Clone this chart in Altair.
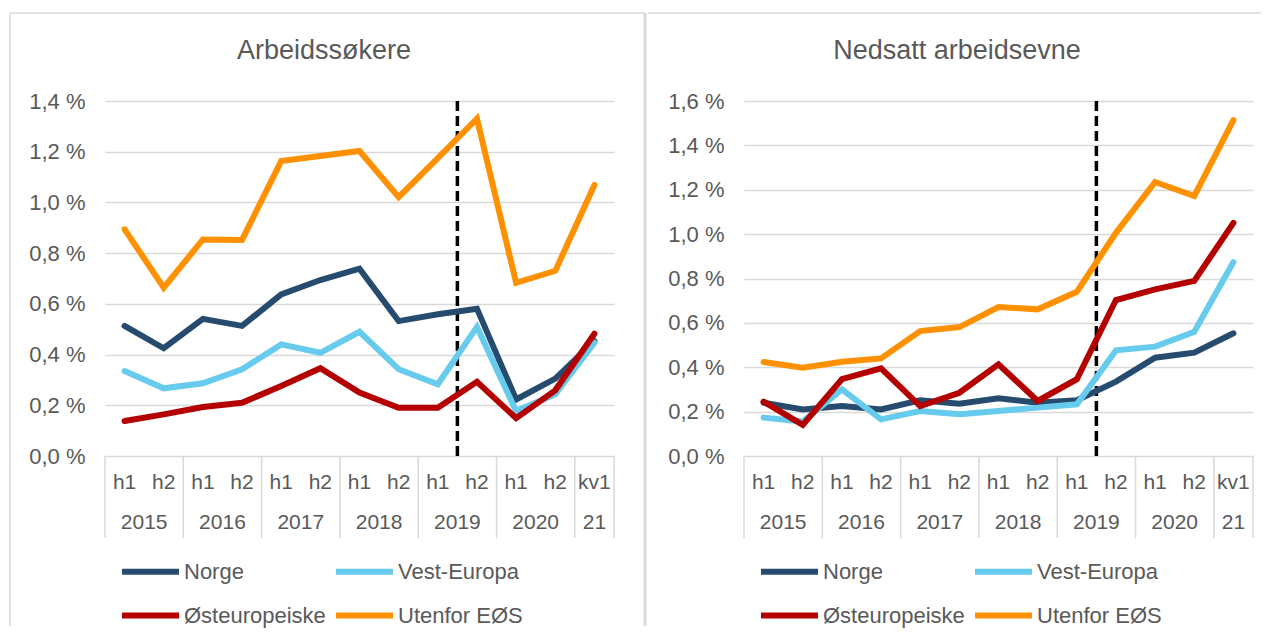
import altair as alt
import pandas as pd

# ---- data ----
perioder = ["h1", "h2", "h1", "h2", "h1", "h2", "h1", "h2", "h1", "h2", "h1", "h2", "kv1"]
aar = ["2015", "2016", "2017", "2018", "2019", "2020", "21"]
aar_lengde = [2, 2, 2, 2, 2, 2, 1]
skille_aar = "2019"  # dashed line between h1 and h2 of this year

serier = ["Norge", "Vest-Europa", "Østeuropeiske", "Utenfor EØS"]
farger = ["#264B6E", "#66CBEC", "#B50000", "#FF9100"]

tittel_1 = "Arbeidssøkere"
arb_norge = [0.513, 0.425, 0.541, 0.513, 0.637, 0.694, 0.739, 0.532, 0.559, 0.581, 0.223, 0.305, 0.453]
arb_vest = [0.335, 0.267, 0.287, 0.342, 0.440, 0.407, 0.490, 0.342, 0.283, 0.509, 0.177, 0.243, 0.447]
arb_ost = [0.138, 0.164, 0.193, 0.210, 0.276, 0.346, 0.250, 0.190, 0.190, 0.293, 0.149, 0.259, 0.482]
arb_utenfor = [0.894, 0.664, 0.854, 0.852, 1.163, 1.183, 1.203, 1.021, 1.175, 1.330, 0.683, 0.730, 1.069]
y_ticks_1 = [0.0, 0.2, 0.4, 0.6, 0.8, 1.0, 1.2, 1.4]

tittel_2 = "Nedsatt arbeidsevne"
ned_norge = [0.240, 0.210, 0.225, 0.210, 0.251, 0.236, 0.260, 0.240, 0.251, 0.335, 0.443, 0.466, 0.553]
ned_vest = [0.173, 0.155, 0.300, 0.165, 0.203, 0.188, 0.203, 0.218, 0.233, 0.476, 0.493, 0.560, 0.874]
ned_ost = [0.245, 0.140, 0.346, 0.395, 0.225, 0.285, 0.413, 0.248, 0.346, 0.703, 0.751, 0.789, 1.051]
ned_utenfor = [0.424, 0.398, 0.425, 0.440, 0.563, 0.581, 0.671, 0.661, 0.740, 1.006, 1.235, 1.172, 1.514]
y_ticks_2 = [0.0, 0.2, 0.4, 0.6, 0.8, 1.0, 1.2, 1.4, 1.6]

# ---- layout / style ----
W, H = 509, 355
FONT = "Liberation Sans"
GREY_TXT = "#595959"
GRID = "#D9D9D9"

n = len(perioder)
starts = []
s = 0
for L in aar_lengde:
    starts.append(s)
    s += L
aar_df = pd.DataFrame({"aar": aar, "x": [st + (L - 1) / 2 for st, L in zip(starts, aar_lengde)]})
grenser_df = pd.DataFrame({"x": [st - 0.5 for st in starts] + [n - 0.5]})
per_df = pd.DataFrame({"i": list(range(n)), "periode": perioder})
skille_df = pd.DataFrame({"x": [starts[aar.index(skille_aar)] + 0.5]})
one = pd.DataFrame({"k": [0]})

xscale = alt.Scale(domain=[-0.5, n - 0.5], nice=False, zero=False)
color_scale = alt.Scale(domain=serier, range=farger)


def panel(tittel, verdier, ticks, title_x, left_panel):
    df = pd.DataFrame(
        [{"i": i, "periode": perioder[i], "serie": sname, "verdi": v[i]}
         for sname, v in zip(serier, verdier) for i in range(n)]
    )
    yscale = alt.Scale(domain=[ticks[0], ticks[-1]], nice=False)
    yaxis = alt.Axis(
        values=ticks, labelExpr="replace(format(datum.value, '.1f'), '.', ',') + ' %'",
        grid=True, gridColor=GRID, gridWidth=1.5, domain=False, ticks=False, tickSize=0,
        labelPadding=20, labelFontSize=22, labelColor=GREY_TXT, labelFont=FONT, title=None,
    )
    legend = alt.Legend(
        orient="none", legendX=14, legendY=439, columns=2, direction="horizontal",
        symbolType="stroke", symbolSize=3249, symbolStrokeWidth=6, labelFontSize=22,
        labelColor=GREY_TXT, labelFont=FONT, labelOffset=2, columnPadding=-2, rowPadding=-18,
        title=None, labelLimit=0,
    )
    layers = []
    # borders
    if left_panel:
        layers.append(alt.Chart(one).mark_rule(color=GRID, strokeWidth=1.5).encode(
            x=alt.value(-95), y=alt.value(-88), y2=alt.value(525)))
        layers.append(alt.Chart(one).mark_rule(color=GRID, strokeWidth=1.5).encode(
            x=alt.value(-95), x2=alt.value(W + 31), y=alt.value(-88)))
        layers.append(alt.Chart(one).mark_rule(color=GRID, strokeWidth=3).encode(
            x=alt.value(W + 31), y=alt.value(-88), y2=alt.value(525)))
    else:
        layers.append(alt.Chart(one).mark_rule(color=GRID, strokeWidth=1.5).encode(
            x=alt.value(-96), x2=alt.value(W + 8), y=alt.value(-88)))
    # title
    layers.append(alt.Chart(pd.DataFrame({"t": [tittel]})).mark_text(
        font=FONT, fontSize=27, color=GREY_TXT, align="center", baseline="middle").encode(
        x=alt.value(title_x), y=alt.value(-50), text="t:N"))
    # category separators
    layers.append(alt.Chart(grenser_df).mark_rule(color=GRID, strokeWidth=1.5).encode(
        x=alt.X("x:Q", scale=xscale, axis=None), y=alt.value(H), y2=alt.value(H + 82)))
    # period labels
    layers.append(alt.Chart(per_df).mark_text(
        font=FONT, fontSize=21, color=GREY_TXT, baseline="middle").encode(
        x=alt.X("i:Q", scale=xscale, axis=None), y=alt.value(H + 27), text="periode:N"))
    # year labels
    layers.append(alt.Chart(aar_df).mark_text(
        font=FONT, fontSize=21, color=GREY_TXT, baseline="middle").encode(
        x=alt.X("x:Q", scale=xscale, axis=None), y=alt.value(H + 67), text="aar:N"))
    # dashed break line (behind the series)
    layers.append(alt.Chart(skille_df).mark_rule(color="black", strokeWidth=3.5, strokeDash=[10, 5]).encode(
        x=alt.X("x:Q", scale=xscale, axis=None), y=alt.value(0), y2=alt.value(H)))
    # series lines (drawn in series order)
    for sname in serier:
        layers.append(alt.Chart(df).transform_filter(alt.datum.serie == sname).mark_line(
            strokeWidth=6, strokeCap="round").encode(
            x=alt.X("i:Q", scale=xscale, axis=None),
            y=alt.Y("verdi:Q", scale=yscale, axis=yaxis),
            color=alt.Color("serie:N", scale=color_scale, legend=legend),
        ))
    return alt.layer(*layers).properties(width=W, height=H)


left = panel(tittel_1, [arb_norge, arb_vest, arb_ost, arb_utenfor], y_ticks_1, 219, True)
right = panel(tittel_2, [ned_norge, ned_vest, ned_ost, ned_utenfor], y_ticks_2, 213, False)

chart = (
    alt.hconcat(left, right, spacing=0)
    .resolve_scale(x="independent", y="independent", color="independent")
    .resolve_legend(color="independent")
    .properties(padding={"left": 1, "top": 3, "right": 0, "bottom": 0})
    .configure(font=FONT)
    .configure_view(stroke=None)
)

chart.save("out.html", embed_options={"renderer": "svg", "actions": False})
